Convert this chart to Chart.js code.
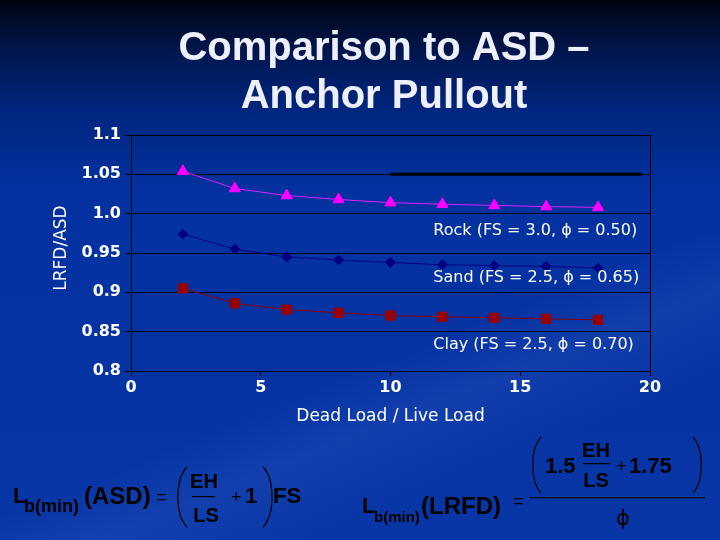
<!DOCTYPE html>
<html>
<head>
<meta charset="utf-8">
<script src="https://cdn.jsdelivr.net/npm/chart.js"></script>
<style>
  html, body { margin: 0; padding: 0; }
  body {
    width: 720px; height: 540px; overflow: hidden;
    background:
      linear-gradient(158deg, rgba(0,0,0,0) 62%, rgba(70,110,210,0.18) 70%, rgba(0,0,0,0) 80%),
      linear-gradient(to bottom, #000410 0px, #001752 55px, #00267f 110px, #0431a0 190px, #0836a6 540px);
  }
  #wrap { position: relative; width: 720px; height: 540px; }
</style>
</head>
<body>
<div id="wrap"><canvas id="grafica" width="720" height="540"></canvas></div>
<script>
// relacion carga muerta / carga viva
const ratioDL = [2, 4, 6, 8, 10, 12, 14, 16, 18];
const rock = [1.054, 1.032, 1.023, 1.018, 1.014, 1.012, 1.0105, 1.009, 1.008];
const sand = [0.974, 0.955, 0.945, 0.941, 0.938, 0.935, 0.934, 0.933, 0.931];
const clay = [0.905, 0.886, 0.878, 0.874, 0.8705, 0.869, 0.8676, 0.8664, 0.865];
const refLineX = [10, 19.7];
const refLineY = [1.05, 1.05];
const yTicks = ['0.8', '0.85', '0.9', '0.95', '1.0', '1.05', '1.1'];
const seriesLabels = ['Rock (FS = 3.0, ϕ = 0.50)', 'Sand (FS = 2.5, ϕ = 0.65)', 'Clay (FS = 2.5, ϕ = 0.70)'];

const puntos = (xs, ys) => xs.map((x, i) => ({ x: x, y: ys[i] }));

function parentesis(ctx, xIn, xOut, yTop, yBot) {
    const h = yBot - yTop;
    ctx.beginPath();
    ctx.moveTo(xIn, yTop);
    ctx.bezierCurveTo(xOut, yTop + h * 0.2, xOut, yBot - h * 0.2, xIn, yBot);
    ctx.stroke();
}

function t(ctx, txt, x, y, font, align) {
    ctx.font = font;
    ctx.textAlign = align || 'left';
    ctx.fillText(txt, x, y);
}

const textos = {
    id: 'textos',
    afterDraw(chart) {
        const ctx = chart.ctx;
        const sx = chart.scales.x, sy = chart.scales.y;
        ctx.save();

        // titulo
        ctx.fillStyle = '#eef0ff';
        ctx.textBaseline = 'alphabetic';
        t(ctx, 'Comparison to ASD –', 384, 60, 'bold 40px "Liberation Sans"', 'center');
        t(ctx, 'Anchor Pullout', 384, 108, 'bold 40px "Liberation Sans"', 'center');

        // eje y
        ctx.save();
        ctx.translate(62, 248);
        ctx.rotate(-Math.PI / 2);
        ctx.fillStyle = '#ffffff';
        ctx.textBaseline = 'middle';
        t(ctx, 'LRFD/ASD', 0, 0, '17px "DejaVu Sans"', 'center');
        ctx.restore();

        // etiquetas de series
        ctx.fillStyle = '#ffffff';
        ctx.textBaseline = 'middle';
        const ly = [0.978, 0.918, 0.833];
        seriesLabels.forEach((s, i) => {
            t(ctx, s, sx.getPixelForValue(11.65), sy.getPixelForValue(ly[i]), '16px "DejaVu Sans"', 'left');
        });

        // formulas
        ctx.fillStyle = '#000000';
        ctx.strokeStyle = '#000000';
        ctx.textBaseline = 'alphabetic';
        const fb = 'bold 22px "Liberation Sans"';
        const fp = 'bold 24px "Liberation Sans"';
        const fo = '18px "Liberation Sans"';

        // Lb(min)(ASD)
        t(ctx, 'L', 13, 503, fb);
        t(ctx, 'b(min)', 24, 512, 'bold 18px "Liberation Sans"');
        t(ctx, '(ASD)', 84, 504, fp);
        t(ctx, '=', 156, 503, fo);
        ctx.lineWidth = 1.2;
        parentesis(ctx, 187, 175, 467, 527);
        t(ctx, 'EH', 204, 488, 'bold 20px "Liberation Sans"', 'center');
        ctx.fillRect(192, 496, 23, 1.2);
        t(ctx, 'LS', 206, 522, 'bold 20px "Liberation Sans"', 'center');
        t(ctx, '+', 231, 503, fo);
        t(ctx, '1', 245, 503, fb);
        parentesis(ctx, 263, 275, 467, 527);
        t(ctx, 'FS', 273, 503, fb);

        // Lb(min)(LRFD)
        t(ctx, 'L', 362, 513, fb);
        t(ctx, 'b(min)', 374, 522, 'bold 15px "Liberation Sans"');
        t(ctx, '(LRFD)', 421, 514, fp);
        t(ctx, '=', 513, 507, fo);
        ctx.fillRect(530, 497, 175, 1.2);
        parentesis(ctx, 541, 530, 437, 493);
        t(ctx, '1.5', 545, 473, fb);
        t(ctx, 'EH', 596, 457, 'bold 20px "Liberation Sans"', 'center');
        ctx.fillRect(583, 463, 27, 1.2);
        t(ctx, 'LS', 596, 487, 'bold 20px "Liberation Sans"', 'center');
        t(ctx, '+', 616, 472, fo);
        t(ctx, '1.75', 629, 473, fb);
        parentesis(ctx, 693, 704, 437, 493);
        t(ctx, 'ϕ', 623, 525, '21px "DejaVu Sans"', 'center');

        ctx.restore();
    }
};

const fuenteTicks = { family: 'DejaVu Sans', size: 16, weight: 'bold' };

new Chart(document.getElementById('grafica'), {
    type: 'scatter',
    data: {
        datasets: [
            {
                label: 'Rock',
                data: puntos(ratioDL, rock),
                showLine: true,
                borderColor: '#e020ff',
                borderWidth: 1,
                backgroundColor: '#ff00ff',
                pointBorderColor: '#ff00ff',
                pointStyle: 'triangle',
                pointRadius: 6.5
            },
            {
                label: 'Sand',
                data: puntos(ratioDL, sand),
                showLine: true,
                borderColor: '#000080',
                borderWidth: 1,
                backgroundColor: '#000080',
                pointBorderColor: '#000080',
                pointStyle: 'rectRot',
                pointRadius: 5
            },
            {
                label: 'Clay',
                data: puntos(ratioDL, clay),
                showLine: true,
                borderColor: '#8b0000',
                borderWidth: 1,
                backgroundColor: '#990000',
                pointBorderColor: '#990000',
                pointStyle: 'rect',
                pointRadius: 6.5
            },
            {
                label: 'ref',
                data: puntos(refLineX, refLineY),
                showLine: true,
                borderColor: '#000000',
                borderWidth: 3,
                pointRadius: 0
            }
        ]
    },
    options: {
        responsive: false,
        animation: false,
        layout: { padding: { top: 135, right: 70, bottom: 109, left: 0 } },
        plugins: {
            legend: { display: false },
            tooltip: { enabled: false },
            title: { display: false }
        },
        scales: {
            x: {
                type: 'linear',
                min: 0,
                max: 20,
                ticks: { stepSize: 5, color: '#ffffff', font: fuenteTicks, padding: 2, maxRotation: 0 },
                grid: {
                    color: c => (c.tick && c.tick.value === 20) ? '#000000' : 'rgba(0,0,0,0)',
                    tickColor: '#000000',
                    tickLength: 5
                },
                border: { color: '#000000' },
                title: {
                    display: true,
                    text: 'Dead Load / Live Load',
                    color: '#ffffff',
                    font: { family: 'DejaVu Sans', size: 17 },
                    padding: { top: 0, bottom: 4 }
                },
                afterFit: s => { s.height = 60; }
            },
            y: {
                min: 0.8,
                max: 1.1,
                ticks: {
                    stepSize: 0.05,
                    color: '#ffffff',
                    font: fuenteTicks,
                    padding: 4,
                    callback: v => yTicks[Math.round((v - 0.8) / 0.05)]
                },
                grid: { color: '#000000', tickColor: '#000000', tickLength: 6 },
                border: { color: '#000000' },
                afterFit: s => { s.width = 131; }
            }
        }
    },
    plugins: [textos]
});
</script>
</body>
</html>
